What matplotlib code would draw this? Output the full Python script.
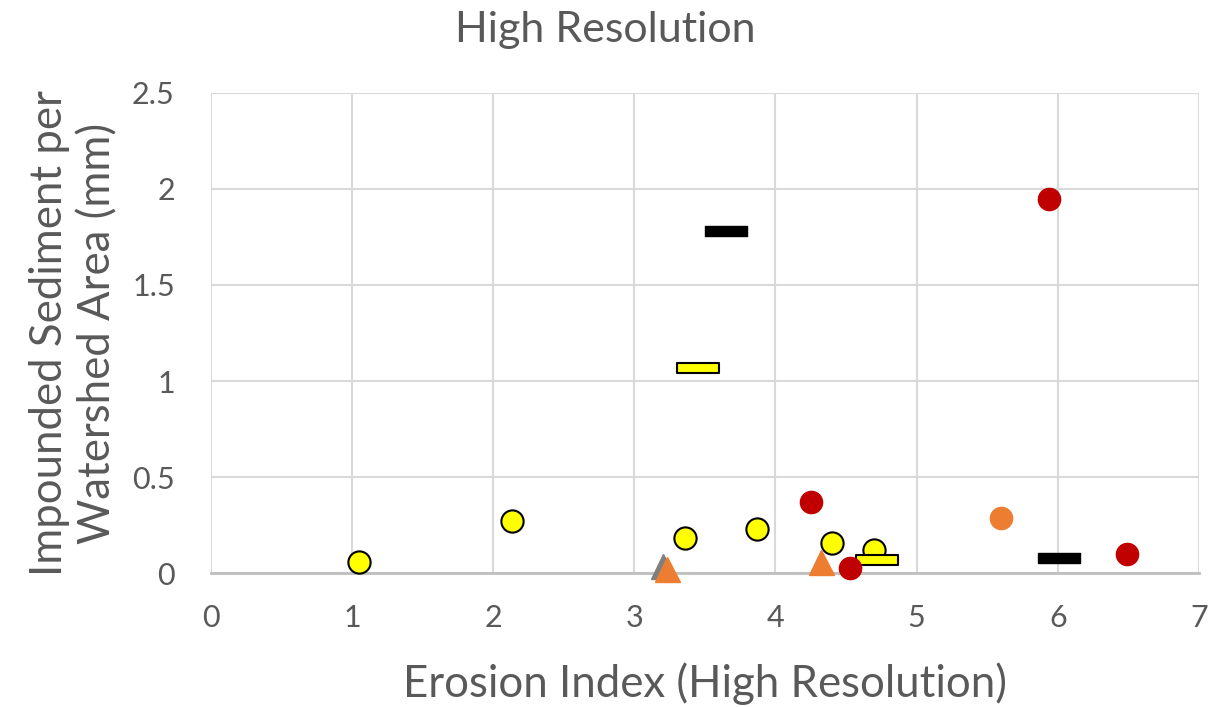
import matplotlib.pyplot as plt
from matplotlib.path import Path

plt.rcParams['font.family'] = ['Lato', 'DejaVu Sans']

# sites grouped by symbol
yellow_circle_x = [1.05, 2.13, 3.36, 3.87, 4.40, 4.70]
yellow_circle_y = [0.06, 0.27, 0.18, 0.23, 0.155, 0.12]
yellow_bar_x = [3.45, 4.72]
yellow_bar_y = [1.07, 0.07]
black_bar_x = [3.65, 6.01]
black_bar_y = [1.78, 0.08]
red_circle_x = [5.94, 4.25, 4.53, 6.49]
red_circle_y = [1.95, 0.37, 0.025, 0.10]
orange_circle_x = [5.60]
orange_circle_y = [0.285]
gray_tri_x = [3.205]
gray_tri_y = [0.035]
orange_tri_x = [3.23, 4.32]
orange_tri_y = [0.02, 0.055]

xticks = [0, 1, 2, 3, 4, 5, 6, 7]
yticks = [0, 0.5, 1, 1.5, 2, 2.5]
ytick_labels = ['0', '0.5', '1', '1.5', '2', '2.5']

bar = Path([(-1, -0.24), (1, -0.24), (1, 0.24), (-1, 0.24), (-1, -0.24)],
           [Path.MOVETO, Path.LINETO, Path.LINETO, Path.LINETO, Path.CLOSEPOLY])

fig = plt.figure(figsize=(12.11, 7.07), dpi=100)
ax = fig.add_axes([0.1742, 0.1895, 0.8158, 0.679])

kw = dict(ls='none', zorder=3, clip_on=False)
ax.plot(yellow_circle_x, yellow_circle_y, marker='o', ms=16, mfc='#ffff00', mec='black', mew=1.5, **kw)
ax.plot(yellow_bar_x, yellow_bar_y, marker=bar, ms=30, mfc='#ffff00', mec='black', mew=1.5, **kw)
ax.plot(black_bar_x, black_bar_y, marker=bar, ms=30, mfc='black', mec='black', **kw)
ax.plot(red_circle_x, red_circle_y, marker='o', ms=16, mfc='#c00000', mec='#c00000', **kw)
ax.plot(orange_circle_x, orange_circle_y, marker='o', ms=16, mfc='#ed7d31', mec='#ed7d31', **kw)
ax.plot(gray_tri_x, gray_tri_y, marker='^', ms=18, mfc='#7f7f7f', mec='#7f7f7f', **kw)
ax.plot(orange_tri_x, orange_tri_y, marker='^', ms=18, mfc='#ed7d31', mec='#ed7d31', **kw)

ax.set_xlim(0, 7)
ax.set_ylim(0, 2.5)
ax.set_xticks(xticks)
ax.set_yticks(yticks)
ax.set_yticklabels(ytick_labels)
ax.grid(True, color='#d9d9d9', lw=1.5)
ax.set_axisbelow(True)
for side in ['top', 'right', 'left']:
    ax.spines[side].set_visible(False)
ax.spines['bottom'].set_color('#bfbfbf')
ax.spines['bottom'].set_linewidth(2)
ax.tick_params(length=0, labelsize=22, colors='#595959')
ax.tick_params(axis='x', pad=22)
ax.tick_params(axis='y', pad=26)

ax.set_xlabel('Erosion Index (High Resolution)', fontsize=31.5, color='#595959', labelpad=22)
ax.set_ylabel('Impounded Sediment per\nWatershed Area (mm)', fontsize=31.5, color='#595959', labelpad=10)
fig.suptitle('High Resolution', x=0.5, y=0.985, fontsize=31, color='#595959', va='top')

fig.savefig('out.png', dpi=100)
